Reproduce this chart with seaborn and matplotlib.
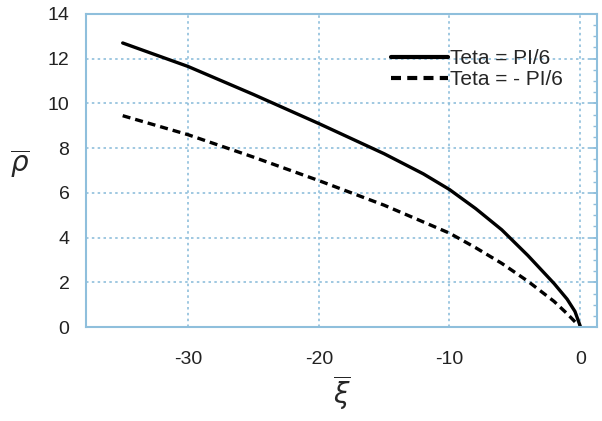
import numpy as np
import pandas as pd
import matplotlib
matplotlib.use("Agg")
import matplotlib.pyplot as plt
import seaborn as sns
from matplotlib.ticker import MultipleLocator

# data
xi_pos = [-35, -30, -25, -20, -15, -12, -10, -8, -6, -4, -2, -1, -0.4, 0]
rho_pos = [12.7, 11.65, 10.4, 9.1, 7.75, 6.85, 6.15, 5.3, 4.35, 3.2, 1.95, 1.25, 0.7, 0.05]
xi_neg = [-35, -30, -25, -20, -15, -10, -8, -6, -4, -2, -1, 0]
rho_neg = [9.45, 8.6, 7.6, 6.55, 5.45, 4.2, 3.55, 2.85, 2.05, 1.15, 0.6, 0.0]
labels = ["Teta = PI/6", "Teta = - PI/6"]
xticks = [-30, -20, -10, 0]
yticks = [0, 2, 4, 6, 8, 10, 12, 14]

sns.set_style("white")
plt.rcParams['font.family'] = ['Liberation Sans', 'DejaVu Sans']
plt.rcParams['axes.unicode_minus'] = False

df = pd.concat([
    pd.DataFrame({"xi": xi_pos, "rho": rho_pos, "case": labels[0]}),
    pd.DataFrame({"xi": xi_neg, "rho": rho_neg, "case": labels[1]}),
])

fig = plt.figure(figsize=(6.02, 4.21), dpi=100)
ax = fig.add_axes([0.143, 0.223, 0.849, 0.744])

blue = "#8fbfdc"
sns.lineplot(data=df, x="xi", y="rho", hue="case", style="case",
             palette={labels[0]: "black", labels[1]: "black"},
             dashes={labels[0]: "", labels[1]: (2.4, 1.5)},
             linewidth=2.4, ax=ax, sort=False)

ax.set_xlim(-37.8, 1.3)
ax.set_ylim(0, 14)
ax.set_xticks(xticks)
ax.set_yticks(yticks)
ax.xaxis.set_minor_locator(MultipleLocator(2))
ax.yaxis.set_minor_locator(MultipleLocator(0.5))
ax.tick_params(which="both", direction="in", color=blue, top=False, right=True,
               labelsize=14, labelcolor="#222222")
ax.tick_params(which="major", length=5, width=1.2)
ax.tick_params(which="minor", length=3, width=1)
ax.tick_params(axis="x", pad=17)
ax.tick_params(axis="y", pad=12)
for s in ax.spines.values():
    s.set_color(blue)
    s.set_linewidth(1.5)
ax.grid(True, which="major", color=blue, linestyle=(0, (1.5, 2)), linewidth=1.2)

ax.set_xlabel(r"$\overline{\xi}$", fontsize=20, labelpad=4)
ax.set_ylabel(r"$\overline{\rho}$", fontsize=20, rotation=0)
ax.yaxis.set_label_coords(-0.13, 0.47)

leg = ax.legend(title=None, frameon=False, loc="upper right",
                bbox_to_anchor=(0.95, 0.915), fontsize=15, handlelength=2.75,
                handletextpad=0.1, labelspacing=0.12, borderaxespad=0)
for h in leg.get_lines():
    h.set_linewidth(3)

fig.savefig("out.png", dpi=100)
